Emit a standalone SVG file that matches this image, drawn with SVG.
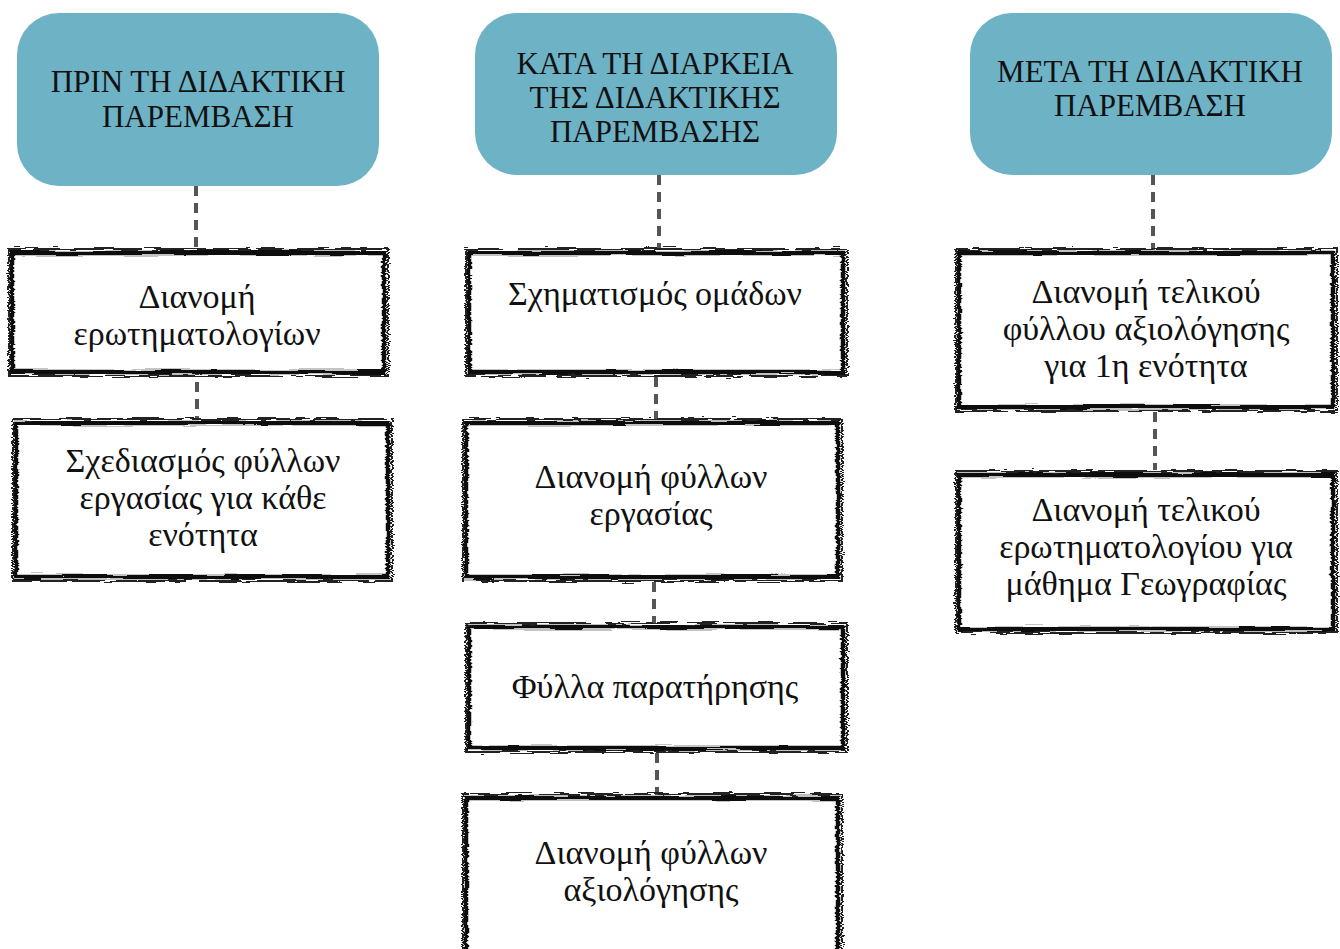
<svg xmlns="http://www.w3.org/2000/svg" width="1340" height="949" viewBox="0 0 1340 949">
<style>
.hdr{fill:#6eb2c6;}
.ht{font-family:"Liberation Serif",serif;font-size:31px;fill:#111;text-anchor:middle;}
.bt{font-family:"Liberation Serif",serif;font-size:34px;fill:#111;text-anchor:middle;}
.frame{fill:#fff;stroke:#111;stroke-width:4.5;filter:url(#rough);}
.frame2{fill:none;stroke:#222;stroke-width:2;filter:url(#rough2);}
.edge{stroke:#111;stroke-width:5;filter:url(#rough);}
.conn{stroke:#555;stroke-width:4;stroke-dasharray:10 7;fill:none;}
</style>
<defs>
<filter id="rough" x="-5%" y="-10%" width="110%" height="120%">
<feTurbulence type="fractalNoise" baseFrequency="0.02 0.5" numOctaves="2" seed="3" result="n"/>
<feDisplacementMap in="SourceGraphic" in2="n" scale="5" xChannelSelector="R" yChannelSelector="G"/>
</filter>
<filter id="rough2" x="-5%" y="-10%" width="110%" height="120%">
<feTurbulence type="fractalNoise" baseFrequency="0.05 0.9" numOctaves="2" seed="7" result="n"/>
<feDisplacementMap in="SourceGraphic" in2="n" scale="6" xChannelSelector="R" yChannelSelector="G"/>
</filter>
</defs>
<rect width="1340" height="949" fill="#fff"/>

<g id="connectors">
<line class="conn" x1="196" y1="186" x2="196" y2="250"/>
<line class="conn" x1="197" y1="365" x2="197" y2="420"/>
<line class="conn" x1="659" y1="175" x2="659" y2="250"/>
<line class="conn" x1="656" y1="377" x2="656" y2="420"/>
<line class="conn" x1="654" y1="582" x2="654" y2="624"/>
<line class="conn" x1="657" y1="753" x2="657" y2="795"/>
<line class="conn" x1="1153" y1="175" x2="1153" y2="250"/>
<line class="conn" x1="1155" y1="412" x2="1155" y2="470"/>
</g>

<g id="h1">
<rect class="hdr" x="17" y="13" width="362" height="173" rx="42"/>
<text class="ht" x="198" y="92">ΠΡΙΝ ΤΗ ΔΙΔΑΚΤΙΚΗ</text>
<text class="ht" x="198" y="127">ΠΑΡΕΜΒΑΣΗ</text>
</g>
<g id="h2">
<rect class="hdr" x="475" y="13" width="362" height="162" rx="42"/>
<text class="ht" x="655" y="74">ΚΑΤΑ ΤΗ ΔΙΑΡΚΕΙΑ</text>
<text class="ht" x="655" y="108">ΤΗΣ ΔΙΔΑΚΤΙΚΗΣ</text>
<text class="ht" x="655" y="142">ΠΑΡΕΜΒΑΣΗΣ</text>
</g>
<g id="h3">
<rect class="hdr" x="970" y="13" width="362" height="162" rx="42"/>
<text class="ht" x="1150" y="82">ΜΕΤΑ ΤΗ ΔΙΔΑΚΤΙΚΗ</text>
<text class="ht" x="1150" y="116">ΠΑΡΕΜΒΑΣΗ</text>
</g>

<g id="b1">
<rect class="frame" x="12" y="253" width="372" height="119"/>
<rect class="frame2" x="9" y="249" width="379" height="127"/>
<line class="edge" x1="384" y1="252" x2="384" y2="374"/>
<line class="edge" x1="14" y1="373" x2="386" y2="373"/>
<text class="bt" x="197" y="308">Διανομή</text>
<text class="bt" x="197" y="345">ερωτηματολογίων</text>
</g>
<g id="b2">
<rect class="frame" x="16" y="423" width="372" height="154"/>
<rect class="frame2" x="13" y="419" width="379" height="162"/>
<line class="edge" x1="388" y1="422" x2="388" y2="579"/>
<line class="edge" x1="18" y1="578" x2="390" y2="578"/>
<text class="bt" x="203" y="472">Σχεδιασμός φύλλων</text>
<text class="bt" x="203" y="509">εργασίας για κάθε</text>
<text class="bt" x="203" y="546">ενότητα</text>
</g>

<g id="b3">
<rect class="frame" x="469" y="253" width="374" height="119"/>
<rect class="frame2" x="466" y="249" width="381" height="127"/>
<line class="edge" x1="843" y1="252" x2="843" y2="374"/>
<line class="edge" x1="471" y1="373" x2="845" y2="373"/>
<text class="bt" x="655" y="305">Σχηματισμός ομάδων</text>
</g>
<g id="b4">
<rect class="frame" x="466" y="423" width="372" height="154"/>
<rect class="frame2" x="463" y="419" width="379" height="162"/>
<line class="edge" x1="838" y1="422" x2="838" y2="579"/>
<line class="edge" x1="468" y1="578" x2="840" y2="578"/>
<text class="bt" x="651" y="488">Διανομή φύλλων</text>
<text class="bt" x="651" y="525">εργασίας</text>
</g>
<g id="b5">
<rect class="frame" x="469" y="627" width="374" height="121"/>
<rect class="frame2" x="466" y="623" width="381" height="129"/>
<line class="edge" x1="843" y1="626" x2="843" y2="750"/>
<line class="edge" x1="471" y1="749" x2="845" y2="749"/>
<text class="bt" x="655" y="698">Φύλλα παρατήρησης</text>
</g>
<g id="b6">
<rect class="frame" x="466" y="798" width="372" height="160"/>
<rect class="frame2" x="463" y="794" width="379" height="170"/>
<line class="edge" x1="838" y1="797" x2="838" y2="949"/>
<text class="bt" x="651" y="864">Διανομή φύλλων</text>
<text class="bt" x="651" y="901">αξιολόγησης</text>
</g>

<g id="b7">
<rect class="frame" x="959" y="253" width="374" height="154"/>
<rect class="frame2" x="956" y="249" width="381" height="162"/>
<line class="edge" x1="1333" y1="252" x2="1333" y2="409"/>
<line class="edge" x1="961" y1="408" x2="1335" y2="408"/>
<text class="bt" x="1146" y="303">Διανομή τελικού</text>
<text class="bt" x="1146" y="340">φύλλου αξιολόγησης</text>
<text class="bt" x="1146" y="377">για 1η ενότητα</text>
</g>
<g id="b8">
<rect class="frame" x="959" y="475" width="374" height="154"/>
<rect class="frame2" x="956" y="471" width="381" height="162"/>
<line class="edge" x1="1333" y1="474" x2="1333" y2="631"/>
<line class="edge" x1="961" y1="630" x2="1335" y2="630"/>
<text class="bt" x="1146" y="521">Διανομή τελικού</text>
<text class="bt" x="1146" y="558">ερωτηματολογίου για</text>
<text class="bt" x="1146" y="595">μάθημα Γεωγραφίας</text>
</g>
</svg>
